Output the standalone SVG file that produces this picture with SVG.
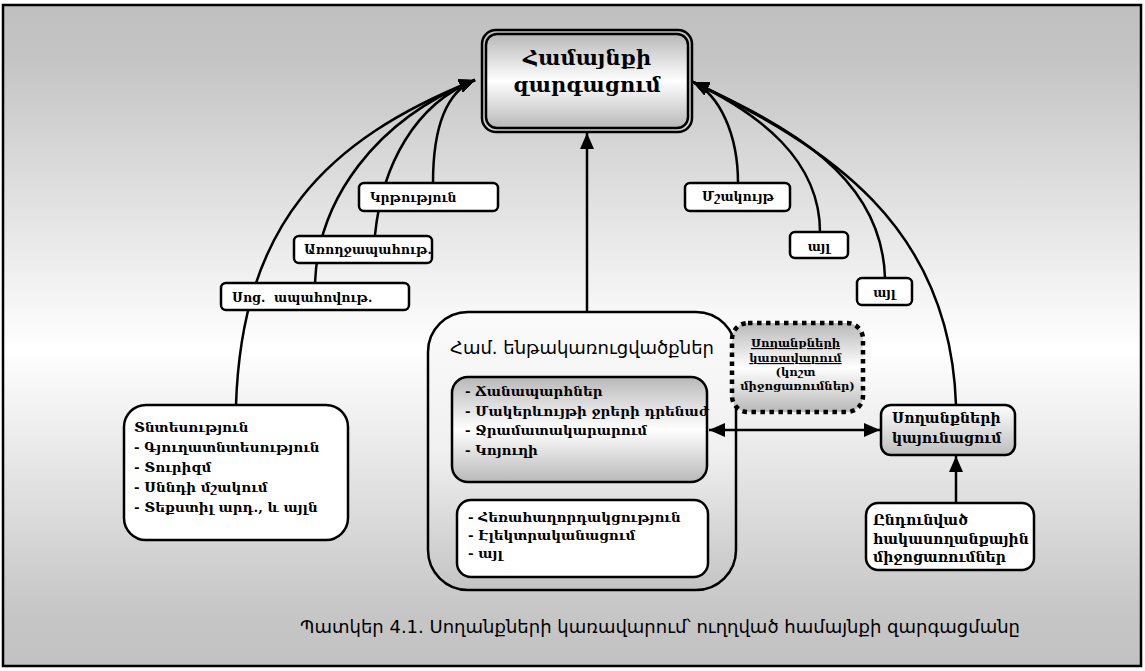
<svg xmlns="http://www.w3.org/2000/svg" width="1145" height="671" viewBox="0 0 1145 671">
  <defs>
    <linearGradient id="bg" x1="0" y1="0" x2="0" y2="1">
      <stop offset="0" stop-color="#c0c0c0"/>
      <stop offset="0.08" stop-color="#c4c4c4"/>
      <stop offset="0.52" stop-color="#ffffff"/>
      <stop offset="0.92" stop-color="#c6c6c6"/>
      <stop offset="1" stop-color="#c2c2c2"/>
    </linearGradient>
    <linearGradient id="metal" x1="0" y1="0" x2="0" y2="1">
      <stop offset="0" stop-color="#b8b8b8"/>
      <stop offset="0.5" stop-color="#ffffff"/>
      <stop offset="1" stop-color="#b8b8b8"/>
    </linearGradient>
    <linearGradient id="fade" x1="0" y1="0" x2="0" y2="1">
      <stop offset="0" stop-color="#ffffff"/>
      <stop offset="1" stop-color="#bdbdbd"/>
    </linearGradient>
    <linearGradient id="panel" x1="0" y1="0" x2="0" y2="1">
      <stop offset="0" stop-color="#fbfbfb"/>
      <stop offset="0.5" stop-color="#f0f0f0"/>
      <stop offset="1" stop-color="#c4c4c4"/>
    </linearGradient>
    <marker id="arrow" viewBox="0 0 16 14" refX="16" refY="7" markerWidth="16" markerHeight="14" markerUnits="userSpaceOnUse" orient="auto-start-reverse">
      <path d="M0,0 L16,7 L0,14 z" fill="#000"/>
    </marker>
    <style>
      .box { stroke: #000; stroke-width: 2.5; }
      .lbl { fill: #fff; stroke: #000; stroke-width: 2.5; }
      .t { font-family: "DejaVu Serif", serif; font-weight: bold; font-size: 13.5px; fill: #000; }
      .l { font-size: 12.5px; }
      .s { font-family: "DejaVu Sans", sans-serif; fill: #000; }
      .c { text-anchor: middle; }
      .link { fill: none; stroke: #000; stroke-width: 2.5; }
      .head { marker-end: url(#arrow); }
    </style>
  </defs>

  <!-- frame -->
  <rect x="3" y="5" width="1138" height="661" fill="url(#bg)" stroke="#000" stroke-width="2.5"/>

  <!-- central infrastructure panel (drawn under the connectors) -->
  <g id="infrastructure">
    <rect class="box" x="428" y="312" width="308" height="278" rx="40" fill="url(#panel)"/>
    <text class="s" x="450" y="354" style="font-size:18px">Համ. ենթակառուցվածքներ</text>
    <rect class="box" x="452" y="377" width="255" height="105" rx="16" fill="url(#metal)"/>
    <text class="t" x="465" y="396">
      <tspan x="465">- Ճանապարհներ</tspan>
      <tspan x="465" dy="19.5">- Մակերևույթի ջրերի դրենաժ</tspan>
      <tspan x="465" dy="19.5">- Ջրամատակարարում</tspan>
      <tspan x="465" dy="19.5">- Կոյուղի</tspan>
    </text>
    <rect class="box" x="457" y="500" width="251" height="77" rx="14" fill="#fff"/>
    <text class="t" x="468" y="522">
      <tspan x="468">- Հեռահաղորդակցություն</tspan>
      <tspan x="468" dy="18">- Էլեկտրականացում</tspan>
      <tspan x="468" dy="18">- այլ</tspan>
    </text>
  </g>

  <!-- connectors: the curves on each side share one final tangent so their heads coincide -->
  <g id="connectors">
    <path class="link head" d="M236,405 C242,225 325,140 475,80"/>
    <path class="link head" d="M315,283 C318,200 375,120 475,80"/>
    <path class="link head" d="M375,235 C382,165 415,104 475,80"/>
    <path class="link head" d="M433,183 C433,130 445,92 475,80"/>
    <path class="link head" d="M738,183 C738,135 720,95 693,82"/>
    <path class="link head" d="M820,232 C820,160 760,114 693,82"/>
    <path class="link head" d="M885,278 C882,175 788,127 693,82"/>
    <path class="link head" d="M956,405 C950,225 828,147 693,82"/>
    <path class="link head" d="M587,312 L587,133"/>
    <path class="link head" d="M956,503 L956,456"/>
    <path class="link head" d="M709,430 L880,430" marker-start="url(#arrow)"/>
  </g>

  <!-- goal -->
  <g id="goal">
    <rect class="box" x="482" y="30" width="210" height="102" rx="14" fill="none"/>
    <rect class="box" x="486" y="34" width="202" height="94" rx="11" fill="url(#metal)"/>
    <text class="t c" x="587" y="65" style="font-size:21px">Համայնքի</text>
    <text class="t c" x="587" y="92" style="font-size:21px">զարգացում</text>
  </g>

  <g id="education">
    <rect class="lbl" x="359" y="183" width="139" height="28" rx="5"/>
    <text class="t l" x="370" y="202">Կրթություն</text>
  </g>
  <g id="health">
    <rect class="lbl" x="294" y="236" width="138" height="27" rx="5"/>
    <text class="t l" x="304" y="254">Առողջապահութ.</text>
  </g>
  <g id="social">
    <rect class="lbl" x="221" y="283" width="188" height="27" rx="5"/>
    <text class="t l" x="232" y="302" style="white-space:pre">Սոց.  ապահովութ.</text>
  </g>
  <g id="culture">
    <rect class="lbl" x="685" y="183" width="105" height="28" rx="5"/>
    <text class="t l" x="702" y="201">Մշակույթ</text>
  </g>
  <g id="other-1">
    <rect class="lbl" x="790" y="232" width="58" height="26" rx="5"/>
    <text class="t l c" x="819" y="251">այլ</text>
  </g>
  <g id="other-2">
    <rect class="lbl" x="857" y="278" width="55" height="27" rx="5"/>
    <text class="t l c" x="884.5" y="297">այլ</text>
  </g>

  <g id="economy">
    <rect class="box" x="124" y="405" width="224" height="135" rx="22" fill="#fff"/>
    <text class="t" x="134" y="432">
      <tspan x="134">Տնտեսություն</tspan>
      <tspan x="134" dy="20">- Գյուղատնտեսություն</tspan>
      <tspan x="134" dy="20">- Տուրիզմ</tspan>
      <tspan x="134" dy="20">- Սննդի մշակում</tspan>
      <tspan x="134" dy="20">- Տեքստիլ արդ., և այլն</tspan>
    </text>
  </g>

  <g id="landslide-management">
    <rect x="732" y="323" width="131" height="89" rx="16" fill="url(#metal)" stroke="#000" stroke-width="4.5" stroke-dasharray="4.5 4.5"/>
    <text class="t c" x="797.5" y="347" style="font-size:11.5px">
      <tspan x="797.5" text-decoration="underline">Սողանքների</tspan>
      <tspan x="797.5" dy="15" text-decoration="underline">կառավարում</tspan>
      <tspan x="797.5" dy="14">(կոշտ</tspan>
      <tspan x="797.5" dy="14">միջոցառումներ)</tspan>
    </text>
  </g>

  <g id="stabilization">
    <rect class="box" x="881" y="405" width="134" height="50" rx="10" fill="url(#fade)"/>
    <text class="t" x="892" y="423" style="font-size:14px">
      <tspan x="892">Սողանքների</tspan>
      <tspan x="892" dy="20">կայունացում</tspan>
    </text>
  </g>

  <g id="measures">
    <rect class="box" x="866" y="503" width="168" height="67" rx="12" fill="#fff"/>
    <text class="t" x="873" y="525" style="font-size:14px">
      <tspan x="873">Ընդունված</tspan>
      <tspan x="873" dy="18.5">հակասողանքային</tspan>
      <tspan x="873" dy="18.5">միջոցառումներ</tspan>
    </text>
  </g>

  <text class="s" x="1020" y="633" text-anchor="end" style="font-size:18px">Պատկեր 4.1. Սողանքների կառավարում՝ ուղղված համայնքի զարգացմանը</text>
</svg>
